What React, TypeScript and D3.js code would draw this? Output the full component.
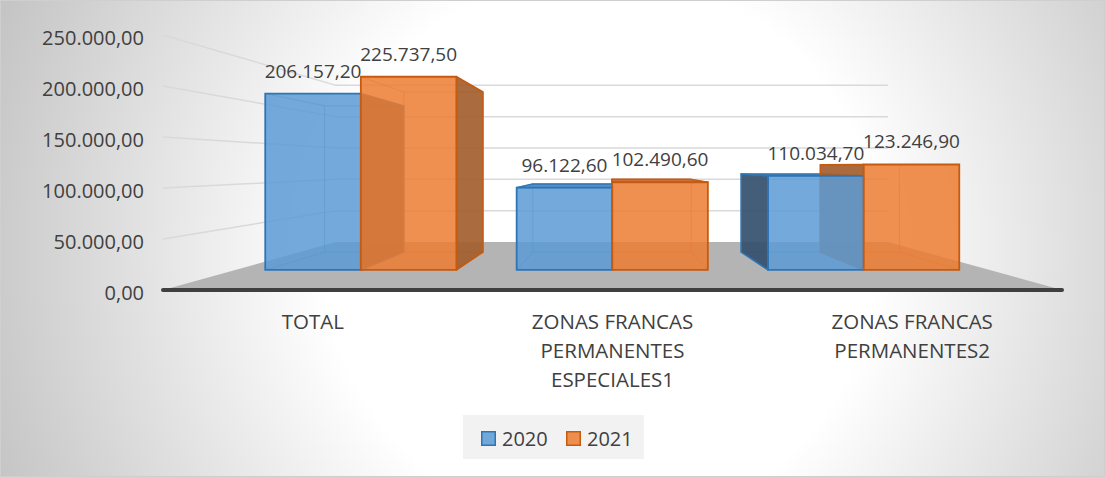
import * as d3 from 'd3';

const categories = ['TOTAL', 'ZONAS FRANCAS PERMANENTES ESPECIALES1', 'ZONAS FRANCAS PERMANENTES2'];
const categoryLines = [['TOTAL'], ['ZONAS FRANCAS', 'PERMANENTES', 'ESPECIALES1'], ['ZONAS FRANCAS', 'PERMANENTES2']];
const seriesNames = ['2020', '2021'];
const values2020 = [206157.2, 96122.6, 110034.7];
const values2021 = [225737.5, 102490.6, 123246.9];
const yTicks = [0, 50000, 100000, 150000, 200000, 250000];

const seriesValues = [values2020, values2021];
const seriesColors = [
  { fill: '#5b9bd5', border: '#2e75b6', side: '#34506f', top: '#4a84bf' },
  { fill: '#ed7d31', border: '#c55a11', side: '#a35e2e', top: '#c9652a' },
];

const W = 1105;
const H = 477;
// perspective: vanishing point and depth scales
const vx = 611;
const vy = 165.5;
const sFront = 0.839;
const sBack = 0.695;
const sWall = 0.614;

const locale = d3.formatLocale({ decimal: ',', thousands: '.', grouping: [3], currency: ['', ''] });
const fmt = locale.format(',.2f');

const P = (X: number, Y: number, s: number): [number, number] => [vx + (X - vx) * s, vy + (Y - vy) * s];
const poly = (pts: [number, number][]) => pts.map(p => p.join(',')).join(' ');

const App = () => {
  const x = d3.scaleBand().domain(categories).range([163, 1062]);
  const xs = d3.scaleBand().domain(seriesNames).range([0, x.bandwidth()]).paddingOuter(0.315).paddingInner(0);
  const y = d3.scaleLinear().domain([0, 250000]).range([290, 35]);

  const bars = seriesNames.flatMap((name, si) =>
    categories.map((cat, ci) => {
      const X0 = (x(cat) || 0) + (xs(name) || 0);
      const X1 = X0 + xs.bandwidth();
      const Yt = y(seriesValues[si][ci]);
      const Yb = y(0);
      return {
        key: `${name}-${ci}`,
        si,
        value: seriesValues[si][ci],
        X0, X1, Yt, Yb,
        fTL: P(X0, Yt, sFront), fTR: P(X1, Yt, sFront), fBR: P(X1, Yb, sFront), fBL: P(X0, Yb, sFront),
        bTL: P(X0, Yt, sBack), bTR: P(X1, Yt, sBack), bBR: P(X1, Yb, sBack), bBL: P(X0, Yb, sBack),
      };
    })
  );

  const floor = [P(163, y(0), 1), P(1062, y(0), 1), P(1062, y(0), sWall), P(163, y(0), sWall)];

  return (
    <svg width={W} height={H} style={{ position: 'absolute', left: 0, top: 0 }} fontFamily="'Open Sans', sans-serif">
      <defs>
        <radialGradient id="bg" gradientUnits="userSpaceOnUse" cx={600} cy={250} r={660}>
          <stop offset="0" stopColor="#ffffff" />
          <stop offset="0.42" stopColor="#ffffff" />
          <stop offset="1" stopColor="#c2c2c2" />
        </radialGradient>
      </defs>
      <rect x={0.5} y={0.5} width={W - 1} height={H - 1} fill="url(#bg)" stroke="#cfcfcf" />

      {/* gridlines on side wall and back wall */}
      {yTicks.filter(t => t > 0).map(t => {
        const a = P(163, y(t), 1);
        const b = P(163, y(t), sWall);
        const c = P(1062, y(t), sWall);
        return <polyline key={t} points={poly([a, b, c])} fill="none" stroke="#d9d9d9" strokeWidth={1.5} />;
      })}

      {/* floor */}
      <polygon points={poly(floor)} fill="#b4b4b4" />
      <line x1={163} x2={1062} y1={y(0)} y2={y(0)} stroke="#3f3f3f" strokeWidth={4} strokeLinecap="round" />

      {/* tick labels */}
      {yTicks.map(t => (
        <text key={t} x={144} y={y(t) + 2} textAnchor="end" dominantBaseline="central" fontSize={20} fill="#404040">
          {fmt(t)}
        </text>
      ))}

      {/* hidden edges, seen through the transparent faces */}
      {bars.map(b => {
        const c = seriesColors[b.si];
        return (
          <g key={b.key + 'h'} stroke={c.border} strokeOpacity={0.45} strokeWidth={1.2} fill="none">
            <polygon points={poly([b.bTL, b.bTR, b.bBR, b.bBL])} />
            <line x1={b.fTL[0]} y1={b.fTL[1]} x2={b.bTL[0]} y2={b.bTL[1]} />
            <line x1={b.fTR[0]} y1={b.fTR[1]} x2={b.bTR[0]} y2={b.bTR[1]} />
            <line x1={b.fBL[0]} y1={b.fBL[1]} x2={b.bBL[0]} y2={b.bBL[1]} />
            <line x1={b.fBR[0]} y1={b.fBR[1]} x2={b.bBR[0]} y2={b.bBR[1]} />
          </g>
        );
      })}

      {/* visible side and top faces */}
      {bars.map(b => {
        const c = seriesColors[b.si];
        return (
          <g key={b.key + 's'} stroke={c.border} strokeWidth={1.5} strokeLinejoin="round">
            {b.X1 < vx && <polygon points={poly([b.fTR, b.bTR, b.bBR, b.fBR])} fill={c.side} fillOpacity={0.92} />}
            {b.X0 > vx && <polygon points={poly([b.fTL, b.bTL, b.bBL, b.fBL])} fill={c.side} fillOpacity={0.92} />}
            {b.fTL[1] > vy && <polygon points={poly([b.fTL, b.fTR, b.bTR, b.bTL])} fill={c.top} fillOpacity={0.92} />}
          </g>
        );
      })}

      {/* front faces */}
      {bars.map(b => {
        const c = seriesColors[b.si];
        return (
          <polygon
            key={b.key + 'f'}
            points={poly([b.fTL, b.fTR, b.fBR, b.fBL])}
            fill={c.fill}
            fillOpacity={0.85}
            stroke={c.border}
            strokeWidth={1.8}
          />
        );
      })}

      {/* data labels */}
      {bars.map(b => {
        const cx = (b.fTL[0] + b.fTR[0]) / 2;
        return (
          <text key={b.key + 'l'} x={cx} y={b.fTL[1] - 16} textAnchor="middle" fontSize={19} fill="#404040">
            {fmt(b.value)}
          </text>
        );
      })}

      {/* category labels */}
      {categories.map((cat, ci) => (
        <text key={cat} x={(x(cat) || 0) + x.bandwidth() / 2} y={329} textAnchor="middle" fontSize={20.5} fill="#404040">
          {categoryLines[ci].map((line, li) => (
            <tspan key={li} x={(x(cat) || 0) + x.bandwidth() / 2} dy={li === 0 ? 0 : 29}>
              {line}
            </tspan>
          ))}
        </text>
      ))}

      {/* legend */}
      <rect x={463} y={415} width={181} height={44} fill="#f2f2f2" />
      {seriesNames.map((name, si) => {
        const lx = 481 + si * 85;
        return (
          <g key={name}>
            <rect x={lx + 0.75} y={431.75} width={13.5} height={13.5} fill={seriesColors[si].fill} fillOpacity={0.85} stroke={seriesColors[si].border} strokeWidth={1.5} />
            <text x={lx + 21} y={438.5} dominantBaseline="central" fontSize={20} fill="#404040">
              {name}
            </text>
          </g>
        );
      })}
    </svg>
  );
};

export default App;
